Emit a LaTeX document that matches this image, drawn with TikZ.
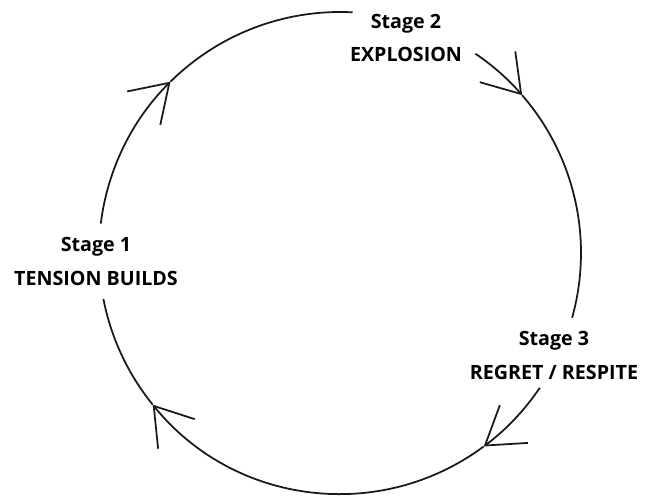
\documentclass[tikz,border=0pt]{standalone}
\usepackage{fontspec}
\setmainfont{Open Sans}
\usetikzlibrary{arrows.meta}

\begin{document}
\begin{tikzpicture}[
    cycleline/.style={line width=1pt, black!90},
    barb/.style={-{Straight Barb[length=7.2mm, width=9.4mm, line width=1pt]}},
    stagelabel/.style={align=center, font=\bfseries\fontsize{11.2}{19}\selectfont}
]
\def\R{4.82}
\useasboundingbox (-6.8,-4.84) rectangle (6.28,5.06);

% stage labels
\node[stagelabel] (stage1) at (-4.88,-0.17) {Stage 1\\TENSION BUILDS};
\node[stagelabel] (stage2) at (1.32,4.3) {Stage 2\\EXPLOSION};
\node[stagelabel] (stage3) at (4.28,-2.05) {Stage 3\\REGRET / RESPITE};

% ends of the arcs next to the labels
\coordinate (s1out) at (173:\R);
\coordinate (s2out) at (55.8:\R);
\coordinate (s3out) at (-34:\R);

% clockwise arcs, one arrow per quarter
\draw[cycleline, barb] (s1out) arc[start angle=173, end angle=134.7, radius=\R] coordinate (tipa);
\draw[cycleline] (tipa) arc[start angle=134.7, end angle=87, radius=\R] coordinate (s2in);
\draw[cycleline, barb] (s2out) arc[start angle=55.8, end angle=40.9, radius=\R] coordinate (tipb);
\draw[cycleline] (tipb) arc[start angle=40.9, end angle=-15.6, radius=\R] coordinate (s3in);
\draw[cycleline, barb] (s3out) arc[start angle=-34, end angle=-53.4, radius=\R] coordinate (tipc);
\draw[cycleline, barb] (tipc) arc[start angle=-53.4, end angle=-141, radius=\R] coordinate (tipd);
\draw[cycleline] (tipd) arc[start angle=-141, end angle=-169, radius=\R] coordinate (s1in);
\end{tikzpicture}
\end{document}
